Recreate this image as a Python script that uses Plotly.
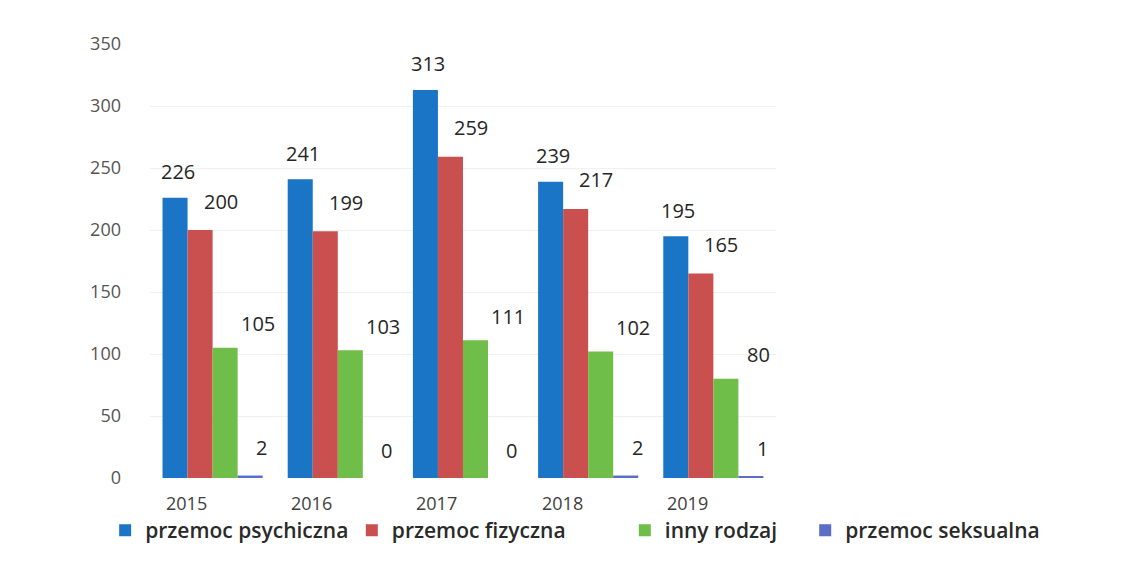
import plotly.graph_objects as go

years = ["2015", "2016", "2017", "2018", "2019"]
psychiczna = [226, 241, 313, 239, 195]
fizyczna = [200, 199, 259, 217, 165]
inny = [105, 103, 111, 102, 80]
seksualna = [2, 0, 0, 2, 1]

series = [
    ("przemoc psychiczna", psychiczna, "#1b75c6"),
    ("przemoc fizyczna", fizyczna, "#c9504f"),
    ("inny rodzaj", inny, "#6fbe4a"),
    ("przemoc seksualna", seksualna, "#5a6dc7"),
]
legend_ids = ["legend", "legend2", "legend3", "legend4"]
legend_x = [-0.046, 0.207, 0.487, 0.672]

fig = go.Figure()
for (name, vals, col), lid in zip(series, legend_ids):
    fig.add_trace(go.Bar(
        x=years, y=vals, name=name, legend=lid, showlegend=True,
        marker=dict(color=col, line=dict(width=0)),
    ))

# value labels, placed above/right of each bar's top (x given as category index)
offsets = [-35, 8, 45, 49]
yshifts = [26, 29, 24, 28]
ann = []
for i, (name, vals, col) in enumerate(series):
    for j, v in enumerate(vals):
        ann.append(dict(x=j, y=v, xref="x", yref="y", text=str(v), showarrow=False,
                        xshift=offsets[i], yshift=yshifts[i],
                        font=dict(size=20, color="#262626", family="Open Sans")))
# category labels (shifted left like the perspective chart)
for j, yr in enumerate(years):
    ann.append(dict(x=j, y=0, xref="x", yref="y", text=yr, showarrow=False,
                    xshift=-26, yshift=-25,
                    font=dict(size=18, color="#404040", family="Open Sans")))

leg_common = dict(orientation="h", y=-0.0737, xanchor="left", yanchor="top",
                  font=dict(size=21, color="#2a2a2a", family="Open Sans", weight=600),
                  itemwidth=30, bgcolor="rgba(0,0,0,0)")
layout_legends = {}
for lid, lx in zip(legend_ids, legend_x):
    layout_legends[lid] = dict(leg_common, x=lx)

fig.update_layout(
    width=1147, height=562,
    paper_bgcolor="white", plot_bgcolor="white",
    margin=dict(l=142, r=30, t=36, b=92),
    barmode="group", bargap=0.2, bargroupgap=0,
    annotations=ann, showlegend=True,
    font=dict(family="Open Sans", color="#555555"),
    xaxis=dict(type="category", domain=[0, 0.642], range=[-0.5, 4.5],
               showgrid=False, showline=False, ticks="", showticklabels=False),
    yaxis=dict(range=[0, 350], dtick=50, showgrid=True, gridcolor="#f0f0f0",
               zeroline=False, showline=False, ticks="",
               tickfont=dict(size=18, color="#555555"), ticklabelstandoff=28),
    **layout_legends,
)

fig.write_html("out.html")
